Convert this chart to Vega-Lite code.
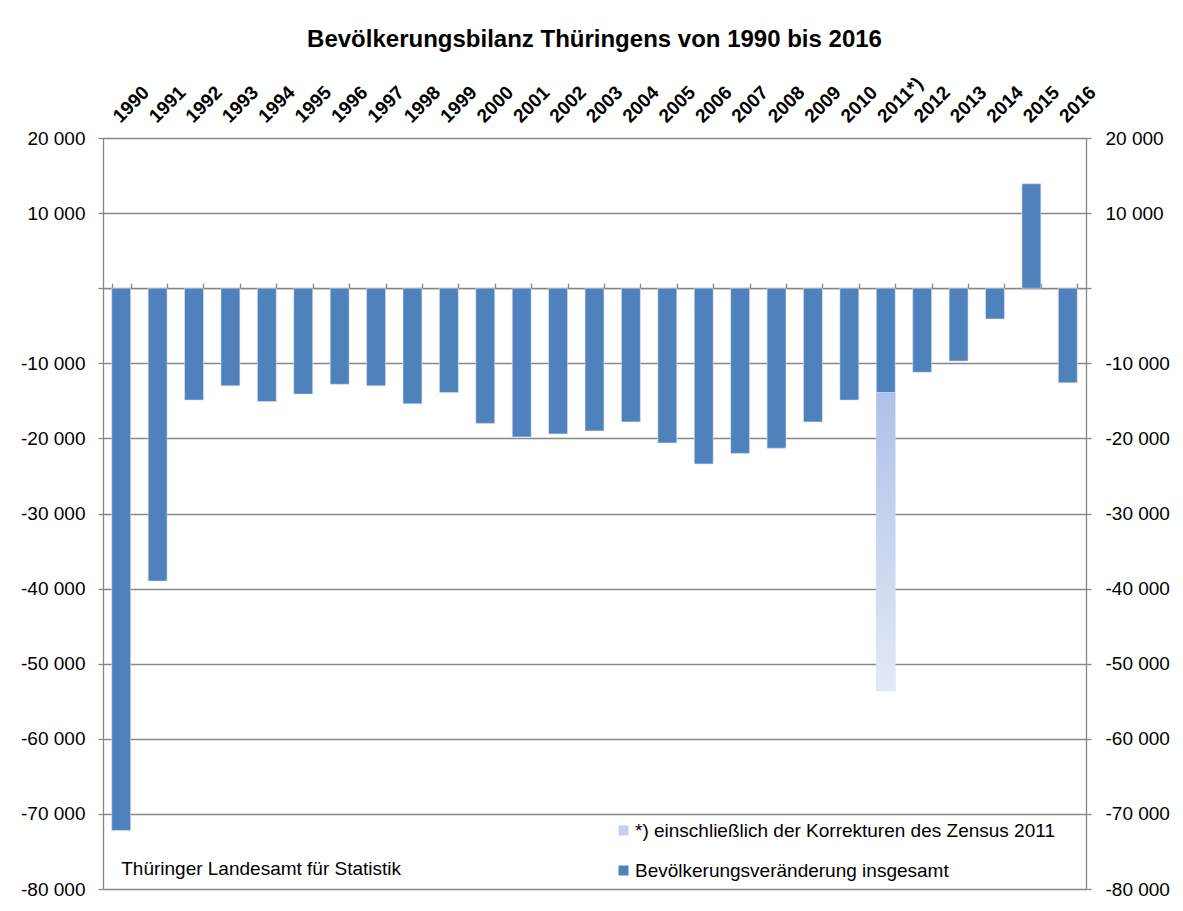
{
  "$schema": "https://vega.github.io/schema/vega-lite/v6.json",
  "width": 983,
  "height": 751,
  "autosize": {"type": "none"},
  "padding": {"left": 103, "top": 138, "right": 97, "bottom": 22},
  "background": "white",
  "title": {
    "text": "Bevölkerungsbilanz Thüringens von 1990 bis 2016",
    "font": "Liberation Sans",
    "fontSize": 24,
    "fontWeight": "bold",
    "color": "black",
    "anchor": "middle",
    "offset": 22
  },
  "config": {
    "view": {"stroke": null},
    "font": "Liberation Sans",
    "axis": {"labelFont": "Liberation Sans", "labelColor": "black"},
    "legend": {"labelFont": "Liberation Sans"}
  },
  "datasets": {
    "bilanz": [
      {"jahr": "1990", "reihe": "Bevölkerungsveränderung insgesamt", "ord": 1, "wert": -72200},
      {"jahr": "1991", "reihe": "Bevölkerungsveränderung insgesamt", "ord": 1, "wert": -39000},
      {"jahr": "1992", "reihe": "Bevölkerungsveränderung insgesamt", "ord": 1, "wert": -14900},
      {"jahr": "1993", "reihe": "Bevölkerungsveränderung insgesamt", "ord": 1, "wert": -13000},
      {"jahr": "1994", "reihe": "Bevölkerungsveränderung insgesamt", "ord": 1, "wert": -15100},
      {"jahr": "1995", "reihe": "Bevölkerungsveränderung insgesamt", "ord": 1, "wert": -14100},
      {"jahr": "1996", "reihe": "Bevölkerungsveränderung insgesamt", "ord": 1, "wert": -12800},
      {"jahr": "1997", "reihe": "Bevölkerungsveränderung insgesamt", "ord": 1, "wert": -13000},
      {"jahr": "1998", "reihe": "Bevölkerungsveränderung insgesamt", "ord": 1, "wert": -15400},
      {"jahr": "1999", "reihe": "Bevölkerungsveränderung insgesamt", "ord": 1, "wert": -13900},
      {"jahr": "2000", "reihe": "Bevölkerungsveränderung insgesamt", "ord": 1, "wert": -18000},
      {"jahr": "2001", "reihe": "Bevölkerungsveränderung insgesamt", "ord": 1, "wert": -19800},
      {"jahr": "2002", "reihe": "Bevölkerungsveränderung insgesamt", "ord": 1, "wert": -19400},
      {"jahr": "2003", "reihe": "Bevölkerungsveränderung insgesamt", "ord": 1, "wert": -19000},
      {"jahr": "2004", "reihe": "Bevölkerungsveränderung insgesamt", "ord": 1, "wert": -17800},
      {"jahr": "2005", "reihe": "Bevölkerungsveränderung insgesamt", "ord": 1, "wert": -20600},
      {"jahr": "2006", "reihe": "Bevölkerungsveränderung insgesamt", "ord": 1, "wert": -23400},
      {"jahr": "2007", "reihe": "Bevölkerungsveränderung insgesamt", "ord": 1, "wert": -22000},
      {"jahr": "2008", "reihe": "Bevölkerungsveränderung insgesamt", "ord": 1, "wert": -21300},
      {"jahr": "2009", "reihe": "Bevölkerungsveränderung insgesamt", "ord": 1, "wert": -17800},
      {"jahr": "2010", "reihe": "Bevölkerungsveränderung insgesamt", "ord": 1, "wert": -14900},
      {"jahr": "2011*)", "reihe": "Bevölkerungsveränderung insgesamt", "ord": 1, "wert": -13900},
      {"jahr": "2011*)", "reihe": "*) einschließlich der Korrekturen des Zensus 2011", "ord": 2, "wert": -39700},
      {"jahr": "2012", "reihe": "Bevölkerungsveränderung insgesamt", "ord": 1, "wert": -11200},
      {"jahr": "2013", "reihe": "Bevölkerungsveränderung insgesamt", "ord": 1, "wert": -9700},
      {"jahr": "2014", "reihe": "Bevölkerungsveränderung insgesamt", "ord": 1, "wert": -4100},
      {"jahr": "2015", "reihe": "Bevölkerungsveränderung insgesamt", "ord": 1, "wert": 13900},
      {"jahr": "2016", "reihe": "Bevölkerungsveränderung insgesamt", "ord": 1, "wert": -12600}
    ],
    "quelle": [
      {"text": "Thüringer Landesamt für Statistik", "jahr": "1990", "y": -77400}
    ]
  },
  "layer": [
    {
      "data": {"name": "bilanz"},
      "transform": [
        {"stack": "wert", "groupby": ["jahr"], "sort": [{"field": "ord", "order": "ascending"}], "as": ["unten", "oben"]}
      ],
      "mark": {"type": "bar", "stroke": "#dbe4f2", "strokeWidth": 0.6},
      "encoding": {
        "x": {
          "field": "jahr",
          "type": "ordinal",
          "sort": null,
          "scale": {"paddingInner": 0.48, "paddingOuter": 0.24},
          "axis": {
            "orient": "top",
            "title": null,
            "domain": false,
            "ticks": false,
            "labelAngle": -45,
            "labelAlign": "left",
            "labelBaseline": "middle",
            "labelFontWeight": "bold",
            "labelFontSize": 19,
            "labelPadding": 19,
            "labelOffset": -5,
            "labelOverlap": false
          }
        },
        "y": {
          "field": "oben",
          "type": "quantitative",
          "scale": {"domain": [-80000, 20000], "nice": false, "zero": false},
          "axis": {
            "orient": "left",
            "title": null,
            "values": [20000, 10000, 0, -10000, -20000, -30000, -40000, -50000, -60000, -70000, -80000],
            "labelExpr": "datum.value == 0 ? '' : (datum.value < 0 ? '-' : '') + replace(format(abs(datum.value), ','), ',', ' ')",
            "labelFontSize": 19,
            "labelPadding": 13,
            "grid": true,
            "gridColor": "#878787",
            "gridWidth": 1.3,
            "domainColor": "#878787",
            "domainWidth": 1.3,
            "tickColor": "#878787",
            "tickSize": 5,
            "tickWidth": 1.3
          }
        },
        "y2": {"field": "unten"},
        "color": {
          "field": "reihe",
          "type": "nominal",
          "scale": {
            "domain": ["*) einschließlich der Korrekturen des Zensus 2011", "Bevölkerungsveränderung insgesamt"],
            "range": ["#c3d1ee", "#4f81bd"]
          },
          "legend": {
            "orient": "none",
            "legendX": 511,
            "legendY": 683,
            "title": null,
            "symbolType": "square",
            "symbolSize": 100,
            "symbolStrokeWidth": 0,
            "labelFontSize": 19,
            "labelColor": "black",
            "labelOffset": 2,
            "rowPadding": 20,
            "padding": 0,
            "labelLimit": 600
          }
        }
      }
    },
    {
      "data": {"name": "bilanz"},
      "transform": [
        {"stack": "wert", "groupby": ["jahr"], "sort": [{"field": "ord", "order": "ascending"}], "as": ["unten", "oben"]},
        {"filter": "datum.ord == 2"}
      ],
      "mark": {
        "type": "bar",
        "color": {
          "gradient": "linear",
          "x1": 0, "y1": 0, "x2": 0, "y2": 1,
          "stops": [
            {"offset": 0, "color": "#adc2e8"},
            {"offset": 1, "color": "#e3e9f6"}
          ]
        }
      },
      "encoding": {
        "x": {
          "field": "jahr",
          "type": "ordinal",
          "sort": null,
          "axis": {
            "orient": "top",
            "offset": -150.2,
            "title": null,
            "labels": false,
            "domain": true,
            "domainColor": "#878787",
            "domainWidth": 1.3,
            "ticks": true,
            "tickBand": "extent",
            "tickColor": "#878787",
            "tickWidth": 1.3,
            "tickSize": 5
          }
        },
        "y": {
          "field": "oben",
          "type": "quantitative",
          "axis": {
            "orient": "right",
            "title": null,
            "values": [20000, 10000, 0, -10000, -20000, -30000, -40000, -50000, -60000, -70000, -80000],
            "labelExpr": "datum.value == 0 ? '' : (datum.value < 0 ? '-' : '') + replace(format(abs(datum.value), ','), ',', ' ')",
            "labelFontSize": 19,
            "labelPadding": 14,
            "grid": false,
            "domainColor": "#878787",
            "domainWidth": 1.3,
            "tickColor": "#878787",
            "tickSize": 5,
            "tickWidth": 1.3
          }
        },
        "y2": {"field": "unten"}
      }
    },
    {
      "data": {"name": "quelle"},
      "mark": {"type": "text", "align": "left", "baseline": "middle", "fontSize": 19, "font": "Liberation Sans", "color": "black"},
      "encoding": {
        "x": {"field": "jahr", "type": "ordinal", "axis": null},
        "y": {"field": "y", "type": "quantitative", "axis": null},
        "text": {"field": "text"}
      }
    }
  ],
  "resolve": {"axis": {"x": "independent", "y": "independent"}}
}
